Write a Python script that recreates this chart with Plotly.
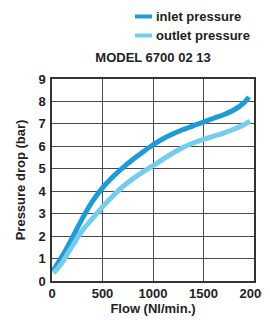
import plotly.graph_objects as go

inlet_flow = [10, 100, 200, 300, 400, 500, 600, 700, 800, 900, 1000,
              1100, 1200, 1300, 1400, 1500, 1600, 1700, 1800, 1900, 1950]
inlet_p = [0.45, 1.1, 1.92, 2.78, 3.55, 4.15, 4.63, 5.04, 5.41, 5.75, 6.07,
           6.34, 6.56, 6.75, 6.92, 7.08, 7.25, 7.41, 7.62, 7.94, 8.2]

outlet_flow = [15, 100, 200, 300, 400, 500, 600, 700, 800, 900, 1000,
               1100, 1200, 1300, 1400, 1500, 1600, 1700, 1800, 1900, 1960]
outlet_p = [0.35, 0.82, 1.55, 2.25, 2.78, 3.3, 3.78, 4.2, 4.55, 4.86, 5.14,
            5.43, 5.71, 5.96, 6.15, 6.31, 6.45, 6.59, 6.76, 6.96, 7.12]

series_names = ["inlet pressure", "outlet pressure"]
x_ticks = [0, 500, 1000, 1500, 2000]
y_ticks = list(range(0, 10))

FONT = "Arial, 'Liberation Sans', sans-serif"
INLET_C = "#1d9dd8"
OUTLET_C = "#72cdee"
TXT = "#222"

# figure is drawn 8px in from the page edge (page body margin)
W, H = 262, 309
PL, PR, PT, PB = 44, 246, 71, 273
PW, PH = PR - PL, PB - PT


def px(fx):
    return (fx - PL) / PW


def py(fy):
    return (PB - fy) / PH


fig = go.Figure()
fig.add_trace(go.Scatter(x=inlet_flow, y=inlet_p, mode="lines", name=series_names[0],
                         line=dict(color=INLET_C, width=5, shape="spline", smoothing=1.0)))
fig.add_trace(go.Scatter(x=outlet_flow, y=outlet_p, mode="lines", name=series_names[1],
                         line=dict(color=OUTLET_C, width=5, shape="spline", smoothing=1.0)))

# legend drawn as key strokes + real text labels
legend_rows = [(series_names[0], INLET_C, 8.5), (series_names[1], OUTLET_C, 27.5)]
shapes = []
annotations = []
for name, color, fy in legend_rows:
    shapes.append(dict(type="line", xref="paper", yref="paper",
                       x0=px(127), x1=px(144), y0=py(fy), y1=py(fy),
                       line=dict(color=color, width=4)))
    annotations.append(dict(text=name, x=px(147), y=py(fy), xref="paper", yref="paper",
                            xanchor="left", yanchor="middle", showarrow=False, borderpad=0,
                            font=dict(size=13, family=FONT, color=TXT, weight="bold")))

fig.update_layout(
    width=W, height=H,
    margin=dict(l=PL, r=W - PR, t=PT, b=H - PB, pad=0, autoexpand=False),
    paper_bgcolor="white", plot_bgcolor="white",
    font=dict(family=FONT, size=13, color=TXT, weight="bold"),
    title=dict(text="MODEL 6700 02 13", x=0.5, xref="paper", xanchor="center",
               y=1 - 49 / H, yref="container", yanchor="middle",
               font=dict(size=13, family=FONT, color=TXT, weight="bold")),
    showlegend=False,
    xaxis=dict(range=[0, 2000], tickvals=x_ticks, showgrid=True, gridcolor="#4a4a4a", gridwidth=1,
               showline=True, linecolor="#333", linewidth=1.5, mirror=True, zeroline=False,
               ticks="", fixedrange=True,
               title=dict(text="Flow (Nl/min.)", standoff=4,
                          font=dict(size=13, family=FONT, color=TXT, weight="bold")),
               tickfont=dict(size=13, family=FONT, color=TXT, weight="bold")),
    yaxis=dict(range=[0, 9], tickvals=y_ticks, showgrid=True, gridcolor="#4a4a4a", gridwidth=1,
               showline=True, linecolor="#333", linewidth=1.5, mirror=True, zeroline=False,
               ticks="", fixedrange=True, ticklabelstandoff=2,
               title=dict(text="Pressure drop (bar)", standoff=10,
                          font=dict(size=13, family=FONT, color=TXT, weight="bold")),
               tickfont=dict(size=13, family=FONT, color=TXT, weight="bold")),
    shapes=shapes,
    annotations=annotations,
)

fig.write_html("out.html")
